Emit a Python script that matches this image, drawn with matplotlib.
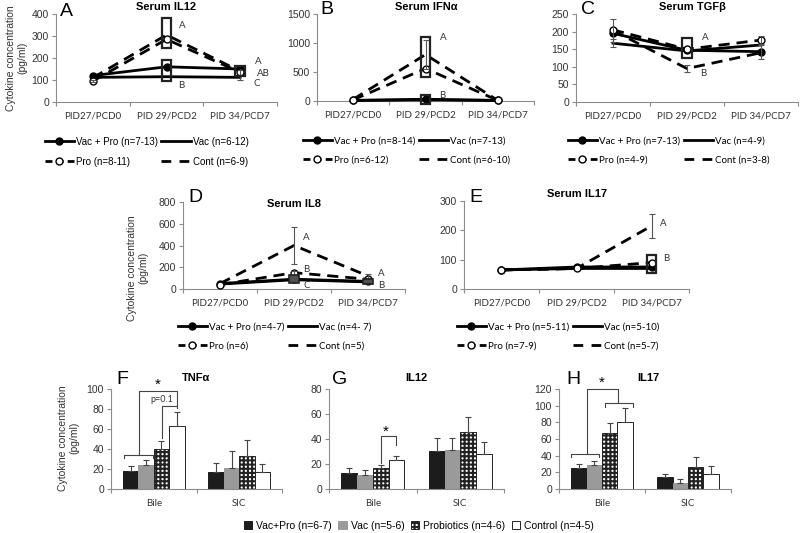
import numpy as np
import matplotlib.pyplot as plt
from matplotlib.lines import Line2D

W, H = 800, 533
plt.rcParams['font.family'] = ['Liberation Sans', 'DejaVu Sans']
plt.rcParams['hatch.linewidth'] = 1.5

periods = ["PID27/PCD0", "PID 29/PCD2", "PID 34/PCD7"]
sites = ["Bile", "SIC"]

# ---- serum line panels: Vac+Pro, Vac, Pro, Cont ----
a_vacpro = [120, 160, 150]
a_vac = [112, 115, 112]
a_pro = [95, 285, 135]
a_cont = [110, 305, 140]
a_box_x = [1, 1, 2]
a_box_lo = [245, 95, 120]
a_box_hi = [380, 190, 165]

b_vacpro = [10, 30, 10]
b_vac = [10, 20, 10]
b_pro = [20, 560, 10]
b_cont = [30, 800, 10]
b_cont_err = [0, 250, 0]
b_box_x = [1, 1]
b_box_lo = [410, -60]
b_box_hi = [1100, 100]

c_vacpro = [195, 147, 143]
c_vac = [167, 145, 162]
c_pro = [205, 150, 176]
c_cont = [203, 95, 140]
c_cont_err = [33, 9, 0]
c_vac_err = [12, 0, 0]
c_pro_err = [0, 0, 12]
c_vacpro_err = [0, 0, 20]
c_box_x = [1]
c_box_lo = [124]
c_box_hi = [181]

d_vacpro = [50, 90, 70]
d_vac = [45, 85, 65]
d_pro = [40, 150, 90]
d_cont = [50, 400, 120]
d_cont_err = [0, 170, 15]
d_pro_err = [0, 20, 0]
d_box_x = [1, 2]
d_box_lo = [55, 45]
d_box_hi = [125, 95]

e_vacpro = [65, 75, 75]
e_vac = [65, 70, 70]
e_pro = [65, 70, 90]
e_cont = [65, 70, 215]
e_cont_err = [0, 0, 40]
e_box_x = [2]
e_box_lo = [55]
e_box_hi = [115]

# ---- tissue bar panels: values for Bile, SIC ----
f_vacpro = [18, 17];  f_vacpro_err = [5, 9]
f_vac = [24, 21];     f_vac_err = [5, 17]
f_probio = [40, 33];  f_probio_err = [8, 16]
f_control = [63, 17]; f_control_err = [14, 8]

g_vacpro = [13, 30.5];  g_vacpro_err = [4, 10]
g_vac = [11.5, 31];     g_vac_err = [4, 10]
g_probio = [17, 45.5];  g_probio_err = [2, 12.5]
g_control = [23.5, 28]; g_control_err = [3.3, 9.5]

h_vacpro = [25, 15];  h_vacpro_err = [5, 3]
h_vac = [29, 7];      h_vac_err = [5, 4.5]
h_probio = [67, 26];  h_probio_err = [12, 12]
h_control = [80, 18]; h_control_err = [17, 10]

bar_labels = ["Vac+Pro (n=6-7)", "Vac (n=5-6)", "Probiotics (n=4-6)", "Control (n=4-5)"]

AXC = '#8c8c8c'
TXC = '#333333'
DASH = (0, (4, 2.5))


def px_axes(fig, left, top, right, bottom):
    return fig.add_axes([left / W, 1 - bottom / H, (right - left) / W, (bottom - top) / H])


def ftext(fig, x, y, s, **kw):
    kw.setdefault('ha', 'center')
    kw.setdefault('va', 'center')
    fig.text(x / W, 1 - y / H, s, **kw)


def style_axes(ax, cats, ymax, ystep):
    ax.set_xlim(-0.5, len(cats) - 0.5)
    ax.set_ylim(0, ymax)
    ax.set_yticks(np.arange(0, ymax + 1, ystep))
    for s in ['top', 'right']:
        ax.spines[s].set_visible(False)
    for s in ['left', 'bottom']:
        ax.spines[s].set_color(AXC)
        ax.spines[s].set_linewidth(0.8)
    ax.set_xticks(np.arange(len(cats) + 1) - 0.5)
    ax.set_xticklabels([])
    ax.set_xticks(np.arange(len(cats)), minor=True)
    ax.set_xticklabels(cats, minor=True, fontfamily='Lato', fontsize=7, color=TXC)
    ax.tick_params(axis='x', which='major', length=3, color=AXC)
    ax.tick_params(axis='x', which='minor', length=0, pad=7)
    ax.tick_params(axis='y', length=3, color=AXC, labelsize=7.5, labelcolor=TXC, pad=2)


def line_panel(fig, pos, vacpro, vac, pro, cont, ymax, ystep, errs, bx, blo, bhi,
               ns, leg_xy, leg_font='Lato', box_fill=None):
    ax = px_axes(fig, *pos)
    style_axes(ax, periods, ymax, ystep)
    x = np.arange(3)
    ax.plot(x, vac, '-', color='k', lw=2, zorder=3, clip_on=False)
    ax.plot(x, cont, color='k', lw=2, ls=DASH, zorder=3, clip_on=False)
    ax.plot(x, vacpro, '-o', color='k', lw=2, ms=5, mfc='k', zorder=4, clip_on=False)
    ax.plot(x, pro, color='k', lw=2, ls=DASH, marker='o', mfc='white', mec='k', ms=5,
            zorder=4, clip_on=False)
    for y, e in errs:
        e = np.asarray(e, float)
        m = e > 0
        ax.errorbar(x[m], np.asarray(y)[m], yerr=e[m], fmt='none', ecolor='#555555',
                    elinewidth=0.8, capsize=2.5, capthick=0.8, zorder=5)
    if box_fill is None:
        ax.bar(bx, np.subtract(bhi, blo), bottom=blo, width=0.13, fill=False,
               edgecolor='#222222', lw=1.6, zorder=6, clip_on=False)
    else:
        ax.bar(bx, np.subtract(bhi, blo), bottom=blo, width=0.13, color=box_fill,
               edgecolor='#222222', lw=1.2, zorder=6, clip_on=False)

    hs = [Line2D([], [], color='k', lw=2, marker='o', ms=5),
          Line2D([], [], color='k', lw=2, ls=(0, (2.5, 1.5)), marker='o', mfc='white', ms=5),
          Line2D([], [], color='k', lw=2),
          Line2D([], [], color='k', lw=2, ls=(0, (3.5, 3)))]
    labs = ["Vac + Pro (n=%s)" % ns[0], "Pro (n=%s)" % ns[2],
            "Vac (n=%s)" % ns[1], "Cont (n=%s)" % ns[3]]
    ax.legend(hs, labs, ncol=2, loc='upper left',
              bbox_to_anchor=(leg_xy[0] / W, 1 - leg_xy[1] / H),
              bbox_transform=fig.transFigure, frameon=False, borderpad=0,
              handlelength=3.0, handletextpad=0.25, columnspacing=0.3,
              labelspacing=1.0, prop={'family': leg_font, 'size': 7})
    return ax


def bar_panel(fig, pos, series, errs, ymax, ystep):
    ax = px_axes(fig, *pos)
    style_axes(ax, sites, ymax, ystep)
    x = np.arange(len(sites))
    offs = [-0.27, -0.09, 0.09, 0.27]
    styles = [dict(color='#1c1c1c', edgecolor='#1c1c1c'),
              dict(color='#9a9a9a', edgecolor='#9a9a9a'),
              dict(color='white', edgecolor='#222222', hatch='++++'),
              dict(color='white', edgecolor='#222222')]
    bars = []
    for v, e, o, st in zip(series, errs, offs, styles):
        b = ax.bar(x + o, v, width=0.18, lw=0.7, zorder=2, **st)
        ax.errorbar(x + o, v, yerr=[np.zeros(len(e)), e], fmt='none', ecolor='#444444',
                    elinewidth=0.8, capsize=2.5, capthick=0.8, zorder=3)
        bars.append(b)
    return ax, bars


def draw_path(ax, xs, ys):
    ax.plot(xs, ys, color='#444444', lw=0.8, clip_on=False, zorder=4)


fig = plt.figure(figsize=(8, 5.33), dpi=100)

# ---- row 1 ----
axA = line_panel(fig, (56, 14, 277, 102), a_vacpro, a_vac, a_pro, a_cont, 400, 100,
                 [(a_pro, [5, 0, 12]), (a_vac, [0, 0, 10])],
                 a_box_x, a_box_lo, a_box_hi, ["7-13", "6-12", "8-11", "6-9"], (40, 132),
                 leg_font='Liberation Sans')
axB = line_panel(fig, (317, 14, 534, 101), b_vacpro, b_vac, b_pro, b_cont, 1500, 500,
                 [(b_cont, b_cont_err)],
                 b_box_x, b_box_lo, b_box_hi, ["8-14", "7-13", "6-12", "6-10"], (298, 132))
axC = line_panel(fig, (576, 14, 798, 102), c_vacpro, c_vac, c_pro, c_cont, 250, 50,
                 [(c_cont, c_cont_err), (c_vac, c_vac_err), (c_pro, c_pro_err),
                  (c_vacpro, c_vacpro_err)],
                 c_box_x, c_box_lo, c_box_hi, ["7-13", "4-9", "4-9", "3-8"], (563, 132))

# ---- row 2 ----
axD = line_panel(fig, (183, 202, 405, 289), d_vacpro, d_vac, d_pro, d_cont, 800, 200,
                 [(d_cont, d_cont_err), (d_pro, d_pro_err)],
                 d_box_x, d_box_lo, d_box_hi, ["4-7", "4- 7", "6", "5"], (173, 318),
                 box_fill='#505050')
axE = line_panel(fig, (464, 201, 689, 289), e_vacpro, e_vac, e_pro, e_cont, 300, 100,
                 [(e_cont, e_cont_err)],
                 e_box_x, e_box_lo, e_box_hi, ["5-11", "5-10", "7-9", "5-7"], (452, 318))

# ---- row 3 ----
axF, bars = bar_panel(fig, (111, 389, 282, 489),
                      [f_vacpro, f_vac, f_probio, f_control],
                      [f_vacpro_err, f_vac_err, f_probio_err, f_control_err], 100, 20)
axG, _ = bar_panel(fig, (329, 389, 504, 489),
                   [g_vacpro, g_vac, g_probio, g_control],
                   [g_vacpro_err, g_vac_err, g_probio_err, g_control_err], 80, 20)
axH, _ = bar_panel(fig, (559, 389, 731, 489),
                   [h_vacpro, h_vac, h_probio, h_control],
                   [h_vacpro_err, h_vac_err, h_probio_err, h_control_err], 120, 20)

# significance brackets
draw_path(axF, [-0.35, -0.35, -0.01, -0.01], [31, 34, 34, 31])
draw_path(axF, [-0.17, -0.17, 0.27, 0.27], [34, 98, 98, 81])
draw_path(axF, [0.10, 0.10, 0.27], [51, 83, 83])
axF.text(0.10, 89, "p=0.1", ha='center', va='center', fontsize=6.5, family='Lato', color=TXC)
axF.text(0.05, 104, "*", ha='center', va='center', fontsize=11, clip_on=False)

draw_path(axG, [0.09, 0.09, 0.27, 0.27], [21, 42.4, 42.4, 35])
axG.text(0.15, 46, "*", ha='center', va='center', fontsize=11)

draw_path(axH, [-0.36, -0.36, -0.03, -0.03], [38.8, 42.4, 42.4, 38.8])
draw_path(axH, [0.03, 0.03, 0.36, 0.36], [99, 103.6, 103.6, 99])
draw_path(axH, [-0.17, -0.17, 0.19, 0.19], [42.4, 120.4, 120.4, 103.6])
axH.text(0.0, 127, "*", ha='center', va='center', fontsize=11, clip_on=False)

# group letters on line panels
for x, y, s in [(179, 25, "A"), (178, 86, "B"), (255, 62, "A"), (257, 74, "AB"), (254, 84, "C"),
                (440, 38, "A"), (439, 96, "B"), (702, 38, "A"), (700, 73, "B"),
                (303, 238, "A"), (303, 269, "B"), (304, 286, "C"), (378, 273, "A"), (378, 285, "B"),
                (660, 223, "A"), (663, 259, "B")]:
    ftext(fig, x, y, s, fontsize=7, color=TXC, ha='left', family='Lato')

# titles and panel letters
for x, y, s in [(166, 7, "Serum IL12"), (426, 7, "Serum IFNα"), (692, 7, "Serum TGFβ"),
                (294, 204, "Serum IL8"), (577, 194, "Serum IL17"),
                (196, 378, "TNFα"), (416, 378, "IL12"), (648, 378, "IL17")]:
    ftext(fig, x, y, s, fontsize=8, fontweight='bold')
for x, y, s in [(66, 11, "A"), (327, 10, "B"), (588, 10, "C"), (195, 198, "D"),
                (476, 197, "E"), (122, 379, "F"), (340, 380, "G"), (573, 379, "H")]:
    ftext(fig, x, y, s, fontsize=14)

# y axis labels
for x, y in [(17, 58), (138, 268), (69, 438)]:
    ftext(fig, x, y, "Cytokine concentration\n(pg/ml)", fontsize=7.5, rotation=90,
          multialignment='center', color=TXC)

fig.legend([b[0] for b in bars], bar_labels, loc='center', ncol=4,
           bbox_to_anchor=(419 / W, 1 - 526 / H), frameon=False, fontsize=7.5,
           handlelength=0.8, handleheight=0.8, handletextpad=0.4, columnspacing=0.6)

fig.savefig("out.png", dpi=100)
